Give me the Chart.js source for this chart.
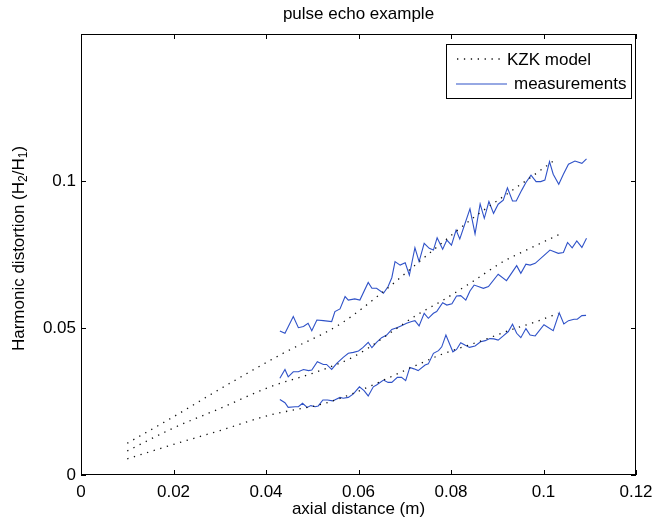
<!DOCTYPE html>
<html>
<head>
<meta charset="utf-8">
<script src="https://cdn.jsdelivr.net/npm/chart.js@4.4.0/dist/chart.umd.min.js"></script>
<style>
  html, body { margin: 0; padding: 0; background: #fff; }
</style>
</head>
<body>
<canvas id="chart" width="660" height="523"></canvas>
<script>
// axis ticks
const xTicks = [0, 0.02, 0.04, 0.06, 0.08, 0.1, 0.12];
const yTicks = [0, 0.05, 0.1];

// KZK model curves (dotted)
const kzkTopX = [0.010, 0.020, 0.030, 0.0437, 0.056, 0.0654, 0.074, 0.0856, 0.0913, 0.0964, 0.1029];
const kzkTopY = [0.0108, 0.0198, 0.0292, 0.0414, 0.0513, 0.0624, 0.0737, 0.0884, 0.0947, 0.1003, 0.1077];
const kzkMidX = [0.010, 0.020, 0.030, 0.0409, 0.0510, 0.0589, 0.0726, 0.0783, 0.0841, 0.0913, 0.0971, 0.1039];
const kzkMidY = [0.0082, 0.0160, 0.0226, 0.0300, 0.0351, 0.0402, 0.0544, 0.0595, 0.0652, 0.0726, 0.0771, 0.0822];
const kzkBotX = [0.010, 0.020, 0.030, 0.0409, 0.0528, 0.0589, 0.0719, 0.0776, 0.0870, 0.0928, 0.0985, 0.1032];
const kzkBotY = [0.0055, 0.0104, 0.0151, 0.0204, 0.0244, 0.0278, 0.0369, 0.0408, 0.0459, 0.0493, 0.0522, 0.0550];

// measurements
const measTopX = [0.0430, 0.0441, 0.0459, 0.0470, 0.0481, 0.0491, 0.0499, 0.0510, 0.0524, 0.0542,
  0.0549, 0.0560, 0.0571, 0.0578, 0.0592, 0.0603, 0.0621, 0.0629, 0.0639, 0.0654,
  0.0664, 0.0672, 0.0679, 0.0690, 0.0701, 0.0710, 0.0722, 0.0731, 0.0742, 0.0753,
  0.0762, 0.0770, 0.0782, 0.0791, 0.0801, 0.0811, 0.0819, 0.0841, 0.0852, 0.0863,
  0.0872, 0.0882, 0.0892, 0.0902, 0.0913, 0.0922, 0.0933, 0.0941, 0.0953, 0.0962,
  0.0973, 0.0984, 0.0994, 0.1003, 0.1013, 0.1021, 0.1033, 0.1043, 0.1054, 0.1068,
  0.1083, 0.1093];
const measTopY = [0.0490, 0.0482, 0.0539, 0.0501, 0.0505, 0.0516, 0.0491, 0.0527, 0.0525, 0.0522,
  0.0556, 0.0565, 0.0607, 0.0595, 0.0599, 0.0595, 0.0655, 0.0635, 0.0635, 0.0618,
  0.0641, 0.0671, 0.0726, 0.0714, 0.0722, 0.0680, 0.0773, 0.0726, 0.0788, 0.0771,
  0.0765, 0.0807, 0.0768, 0.0799, 0.0782, 0.0833, 0.0803, 0.0905, 0.0820, 0.0922,
  0.0873, 0.0930, 0.0890, 0.0921, 0.0935, 0.0977, 0.0932, 0.0932, 0.0969, 0.0995,
  0.1020, 0.0998, 0.0998, 0.1003, 0.1066, 0.1023, 0.0989, 0.1023, 0.1057, 0.1068,
  0.1060, 0.1075];

const measMidX = [0.0430, 0.0441, 0.0448, 0.0459, 0.0470, 0.0481, 0.0492, 0.0499, 0.0511, 0.0524,
  0.0531, 0.0542, 0.0553, 0.0567, 0.0578, 0.0589, 0.0600, 0.0610, 0.0621, 0.0629,
  0.0639, 0.0650, 0.0661, 0.0672, 0.0683, 0.0693, 0.0704, 0.0715, 0.0722, 0.0731,
  0.0742, 0.0751, 0.0762, 0.0769, 0.0782, 0.0791, 0.0802, 0.0812, 0.0821, 0.0832,
  0.0841, 0.0850, 0.0859, 0.0870, 0.0881, 0.0902, 0.0920, 0.0942, 0.0951, 0.0962,
  0.0971, 0.0982, 0.1014, 0.1032, 0.1043, 0.1052, 0.1062, 0.1072, 0.1083, 0.1093];
const measMidY = [0.0329, 0.0359, 0.0334, 0.0351, 0.0351, 0.0359, 0.0355, 0.0357, 0.0385, 0.0376,
  0.0376, 0.0359, 0.0380, 0.0400, 0.0414, 0.0417, 0.0422, 0.0434, 0.0451, 0.0433,
  0.0451, 0.0467, 0.0476, 0.0495, 0.0501, 0.0508, 0.0516, 0.0522, 0.0525, 0.0507,
  0.0550, 0.0533, 0.0550, 0.0556, 0.0586, 0.0578, 0.0582, 0.0609, 0.0610, 0.0595,
  0.0626, 0.0646, 0.0641, 0.0635, 0.0641, 0.0683, 0.0661, 0.0712, 0.0686, 0.0717,
  0.0714, 0.0720, 0.0765, 0.0754, 0.0757, 0.0791, 0.0773, 0.0796, 0.0774, 0.0805];

const measBotX = [0.0430, 0.0441, 0.0448, 0.0463, 0.0470, 0.0479, 0.0489, 0.0497, 0.0506, 0.0513,
  0.0523, 0.0533, 0.0544, 0.0560, 0.0567, 0.0578, 0.0589, 0.0602, 0.0612, 0.0621,
  0.0632, 0.0639, 0.0654, 0.0664, 0.0672, 0.0684, 0.0693, 0.0702, 0.0711, 0.0720,
  0.0729, 0.0744, 0.0751, 0.0762, 0.0773, 0.0780, 0.0789, 0.0804, 0.0812, 0.0821,
  0.0830, 0.0840, 0.0852, 0.0864, 0.0874, 0.0884, 0.0893, 0.0902, 0.0913, 0.0924,
  0.0933, 0.0942, 0.0951, 0.0962, 0.0971, 0.0982, 0.1001, 0.1021, 0.1034, 0.1044,
  0.1054, 0.1066, 0.1073, 0.1083, 0.1092];
const measBotY = [0.0257, 0.0246, 0.0230, 0.0232, 0.0232, 0.0244, 0.0230, 0.0236, 0.0232, 0.0235,
  0.0255, 0.0255, 0.0252, 0.0264, 0.0261, 0.0264, 0.0276, 0.0300, 0.0287, 0.0269,
  0.0300, 0.0306, 0.0323, 0.0315, 0.0315, 0.0332, 0.0332, 0.0321, 0.0366, 0.0361,
  0.0355, 0.0374, 0.0378, 0.0414, 0.0423, 0.0436, 0.0476, 0.0419, 0.0427, 0.0450,
  0.0442, 0.0434, 0.0439, 0.0453, 0.0457, 0.0464, 0.0463, 0.0459, 0.0473, 0.0488,
  0.0513, 0.0482, 0.0467, 0.0498, 0.0476, 0.0473, 0.0511, 0.0491, 0.0552, 0.0514,
  0.0525, 0.0530, 0.0530, 0.0542, 0.0543];

const FONT = "'Liberation Sans', Arial, sans-serif";
const FS = 17;
const BLUE = "#2f52c8";

function pts(xs, ys) {
  return xs.map((x, i) => ({ x: x, y: ys[i] }));
}

function kzk(xs, ys) {
  return {
    data: pts(xs, ys),
    borderColor: "#111",
    borderWidth: 1.3,
    borderDash: [1.3, 5.6],
    cubicInterpolationMode: "monotone",
    pointRadius: 0,
    fill: false
  };
}

function meas(xs, ys) {
  return {
    data: pts(xs, ys),
    borderColor: BLUE,
    borderWidth: 1.1,
    tension: 0,
    pointRadius: 0,
    fill: false
  };
}

// frame, inward ticks, title, axis labels and legend, MATLAB style
const decor = {
  id: "decor",
  afterDraw(chart) {
    const { ctx, chartArea: a, scales } = chart;
    ctx.save();
    ctx.strokeStyle = "#000";
    ctx.lineWidth = 1;
    ctx.setLineDash([]);
    ctx.strokeRect(Math.round(a.left) + 0.5, Math.round(a.top) + 0.5,
      Math.round(a.right - a.left) - 1, Math.round(a.bottom - a.top) - 1);

    const tl = 5;
    ctx.beginPath();
    xTicks.forEach(v => {
      const px = Math.round(scales.x.getPixelForValue(v)) + 0.5;
      ctx.moveTo(px, a.bottom); ctx.lineTo(px, a.bottom - tl);
      ctx.moveTo(px, a.top); ctx.lineTo(px, a.top + tl);
    });
    yTicks.forEach(v => {
      const py = Math.round(scales.y.getPixelForValue(v)) + 0.5;
      ctx.moveTo(a.left, py); ctx.lineTo(a.left + tl, py);
      ctx.moveTo(a.right, py); ctx.lineTo(a.right - tl, py);
    });
    ctx.stroke();

    const cx = (a.left + a.right) / 2;
    ctx.fillStyle = "#000";
    ctx.textAlign = "center";
    ctx.textBaseline = "middle";
    ctx.font = FS + "px " + FONT;
    ctx.fillText("pulse echo example", cx, 14);
    ctx.fillText("axial distance (m)", cx, 509);

    // y label with subscripts
    const parts = [["Harmonic distortion (H", false], ["2", true], ["/H", false], ["1", true], [")", false]];
    const big = FS + "px " + FONT, small = "12px " + FONT;
    let total = 0;
    parts.forEach(p => { ctx.font = p[1] ? small : big; total += ctx.measureText(p[0]).width; });
    ctx.translate(19, (a.top + a.bottom) / 2 - 6);
    ctx.rotate(-Math.PI / 2);
    ctx.textAlign = "left";
    let x = -total / 2;
    parts.forEach(p => {
      ctx.font = p[1] ? small : big;
      ctx.fillText(p[0], x, p[1] ? 5 : 0);
      x += ctx.measureText(p[0]).width;
    });
    ctx.restore();

    // legend box
    ctx.save();
    const lx = 446.5, ly = 44.5, lw = 185, lh = 54;
    ctx.fillStyle = "#fff";
    ctx.fillRect(lx, ly, lw, lh);
    ctx.strokeStyle = "#000";
    ctx.lineWidth = 1;
    ctx.strokeRect(lx, ly, lw, lh);
    ctx.lineWidth = 1.3;
    ctx.strokeStyle = "#111";
    ctx.setLineDash([1.3, 5.6]);
    ctx.beginPath(); ctx.moveTo(457, 59); ctx.lineTo(502, 59); ctx.stroke();
    ctx.setLineDash([]);
    ctx.strokeStyle = BLUE;
    ctx.lineWidth = 1.1;
    ctx.beginPath(); ctx.moveTo(456, 84); ctx.lineTo(507, 84); ctx.stroke();
    ctx.fillStyle = "#000";
    ctx.font = FS + "px " + FONT;
    ctx.textAlign = "left";
    ctx.textBaseline = "middle";
    ctx.fillText("KZK model", 507, 60);
    ctx.fillText("measurements", 514, 84);
    ctx.restore();
  }
};

new Chart(document.getElementById("chart"), {
  type: "line",
  data: {
    datasets: [
      kzk(kzkTopX, kzkTopY), kzk(kzkMidX, kzkMidY), kzk(kzkBotX, kzkBotY),
      meas(measTopX, measTopY), meas(measMidX, measMidY), meas(measBotX, measBotY)
    ]
  },
  options: {
    responsive: false,
    animation: false,
    layout: { padding: { top: 34, right: 24, left: 0, bottom: 0 } },
    plugins: { legend: { display: false }, tooltip: { enabled: false } },
    scales: {
      x: {
        type: "linear", min: 0, max: 0.12,
        afterBuildTicks: s => { s.ticks = xTicks.map(v => ({ value: v })); },
        afterFit: s => { s.height = 48; },
        grid: { display: false, drawTicks: false },
        border: { display: false },
        ticks: {
          padding: 7, color: "#000", maxRotation: 0,
          font: { family: FONT, size: FS },
          callback: v => String(+v.toFixed(2))
        }
      },
      y: {
        type: "linear", min: 0, max: 0.15,
        afterBuildTicks: s => { s.ticks = yTicks.map(v => ({ value: v })); },
        afterFit: s => { s.width = 81; },
        grid: { display: false, drawTicks: false },
        border: { display: false },
        ticks: {
          padding: 5, color: "#000",
          font: { family: FONT, size: FS },
          callback: v => String(+v.toFixed(2))
        }
      }
    }
  },
  plugins: [decor]
});
</script>
</body>
</html>
